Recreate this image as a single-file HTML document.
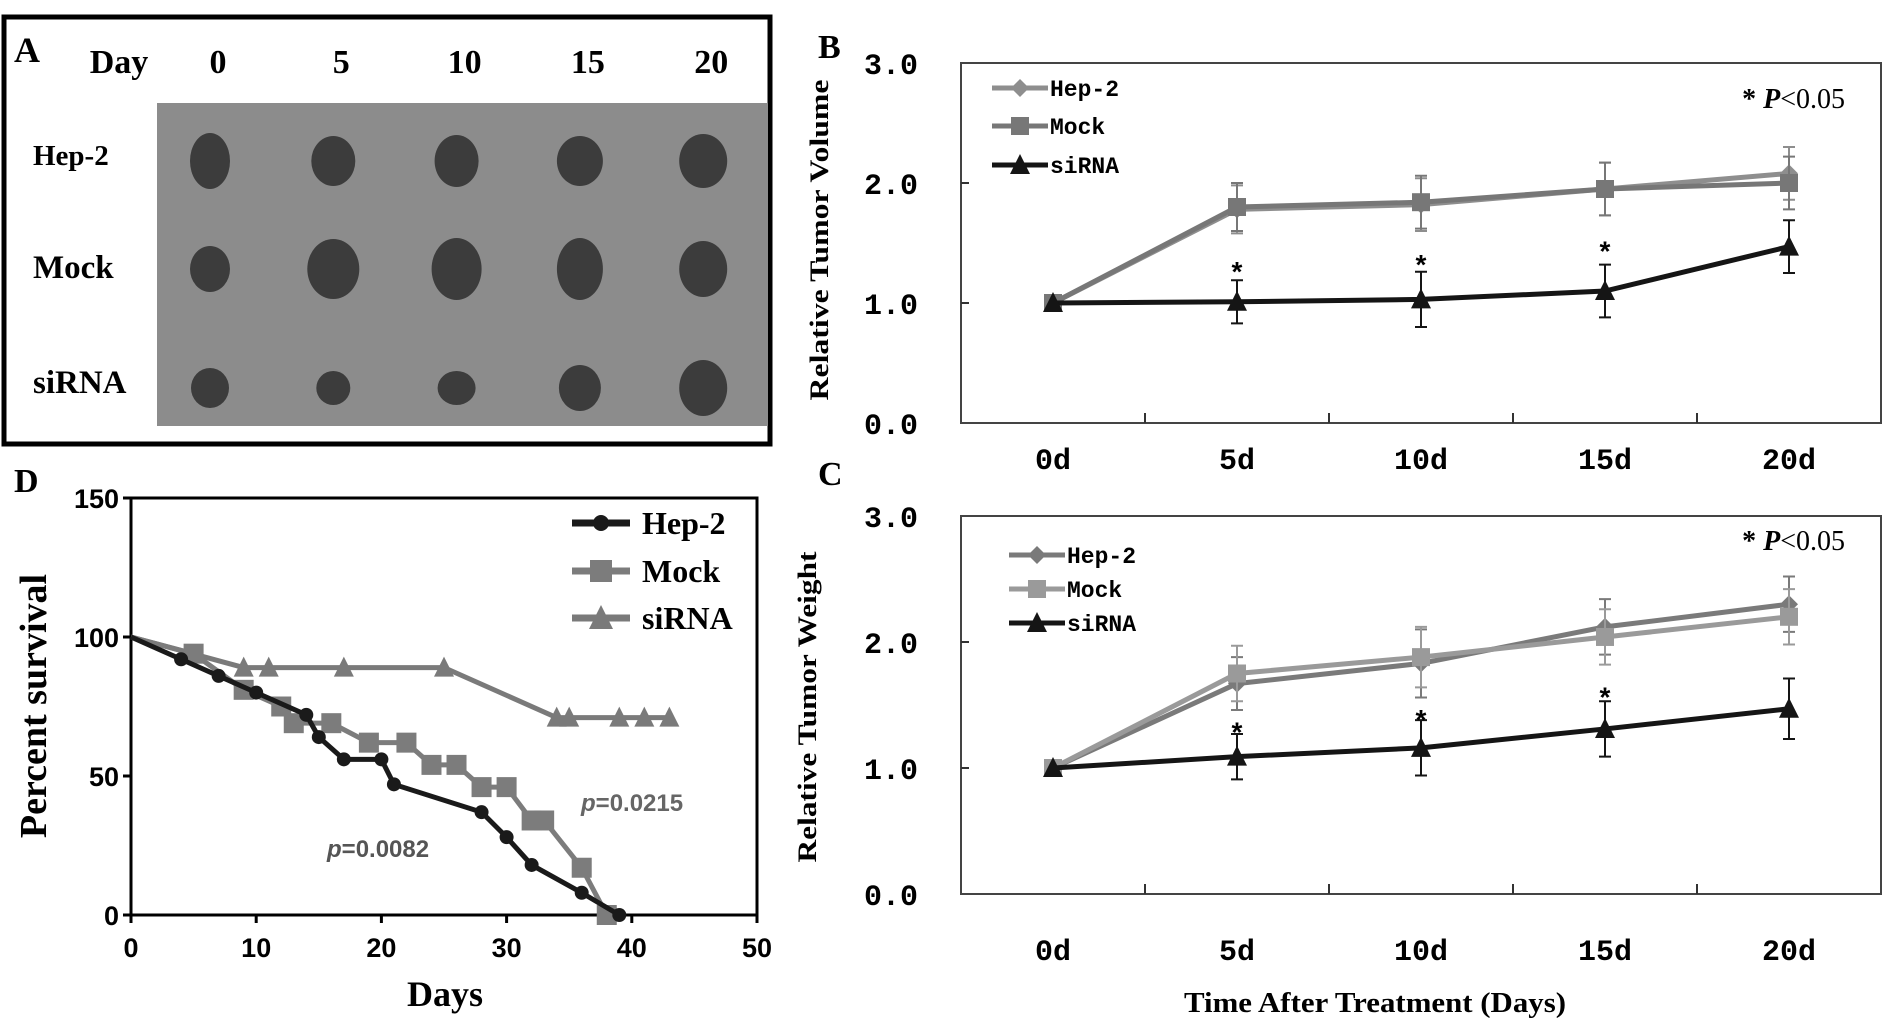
<!DOCTYPE html>
<html><head><meta charset="utf-8">
<style>
html,body{margin:0;padding:0;background:#fff;}
svg{display:block;}
.pl{font-family:"Liberation Serif",serif;font-weight:bold;}
.tk{font-family:"Liberation Mono","Liberation Sans",monospace;font-weight:bold;}
.ar{font-family:"Liberation Sans",sans-serif;font-weight:bold;}
</style></head>
<body>
<svg id="fig" width="1890" height="1018" viewBox="0 0 1890 1018" xmlns="http://www.w3.org/2000/svg">
  <g>
    <rect x="4" y="17" width="766" height="427" fill="#fff" stroke="#000" stroke-width="5"/>
    <rect x="157" y="103" width="611" height="323" fill="#8c8c8c"/>
    <text class="pl" x="14" y="62" font-size="36">A</text>
    <text class="pl" x="119" y="73" font-size="34" text-anchor="middle">Day</text>
    <g id="dayLabels"></g>
    <text class="pl" x="33" y="165" font-size="29">Hep-2</text>
    <text class="pl" x="33" y="278" font-size="33">Mock</text>
    <text class="pl" x="33" y="393" font-size="33">siRNA</text>
    <g id="tumors"></g>
  </g>

  <g id="panelB">
    <text class="pl" x="818" y="58" font-size="34">B</text>
  </g>
  <g id="panelC">
    <text class="pl" x="818" y="485" font-size="34">C</text>
    <text class="pl" x="1375" y="1012" font-size="28" text-anchor="middle" textLength="382" lengthAdjust="spacingAndGlyphs">Time After Treatment (Days)</text>
  </g>
  <g id="panelD">
    <text class="pl" x="14" y="492" font-size="34">D</text>
  </g>
</svg>
<script>
// ---------- Panel A data ----------
const dayLabelsA = ["0","5","10","15","20"];
const tumorRows = ["Hep-2","Mock","siRNA"];
const tumorW = [[40,44,44,46,48],[40,52,50,46,48],[38,34,38,42,48]];
const tumorH = [[56,50,52,50,54],[46,60,62,62,56],[40,34,34,46,56]];

// ---------- Panel B/C data ----------
const catsBC = ["0d","5d","10d","15d","20d"];
const yTicksBC = [0,1,2,3];
const yTickLabelsBC = ["0.0","1.0","2.0","3.0"];
const volHep2 = [1,1.78,1.82,1.95,2.08];
const volMock = [1,1.80,1.84,1.95,2.00];
const volSi = [1,1.01,1.03,1.10,1.47];
const volHep2Err = [0,0.20,0.22,0.22,0.22];
const volMockErr = [0,0.20,0.22,0.22,0.22];
const volSiErr = [0,0.18,0.23,0.22,0.22];
const volStars = [null,1.3,1.36,1.47,null];
const wtHep2 = [1,1.67,1.83,2.12,2.30];
const wtMock = [1,1.75,1.88,2.04,2.20];
const wtSi = [1,1.09,1.16,1.31,1.47];
const wtHep2Err = [0,0.21,0.27,0.22,0.22];
const wtMockErr = [0,0.22,0.24,0.22,0.22];
const wtSiErr = [0,0.18,0.22,0.22,0.24];
const wtStars = [null,1.32,1.42,1.6,null];

// ---------- Panel D data ----------
const dXTicks = [0,10,20,30,40,50];
const dYTicks = [0,50,100,150];
const hepDays = [0,4,7,10,14,15,17,20,21,28,30,32,36,39];
const hepSurv = [100,92,86,80,72,64,56,56,47,37,28,18,8,0];
const mockDays = [0,5,9,12,13,16,19,22,24,26,28,30,32,33,36,38];
const mockSurv = [100,94,81,75,69,69,62,62,54,54,46,46,34,34,17,0];
const siDays = [0,9,11,17,25,34,35,39,41,43];
const siSurv = [100,89,89,89,89,71,71,71,71,71];

const NS = "http://www.w3.org/2000/svg";
function mk(tag, attrs, parent){ const e=document.createElementNS(NS,tag); for(const k in attrs) e.setAttribute(k,attrs[k]); parent.appendChild(e); return e; }

// ---------- Panel A ----------
const dayG = document.getElementById('dayLabels');
const colX = i => 218 + i*123.3;
const rowY = r => [161,269,388][r];
dayLabelsA.forEach((d,i)=>{
  const t = mk('text',{x:colX(i),y:73,'font-size':34,'text-anchor':'middle',class:'pl'},dayG);
  t.textContent = d;
  
  
});
const tg = document.getElementById('tumors');
tumorRows.forEach((r,ri)=>{
  dayLabelsA.forEach((d,ci)=>{
    const e = mk('ellipse',{cx:colX(ci)-8,cy:rowY(ri),rx:tumorW[ri][ci]/2,ry:tumorH[ri][ci]/2,fill:'#3c3c3c'},tg);
    
    
  });
});

// ---------- Panels B & C ----------
function linePanel(gid, box, series, stars, yTitle, legendY, pText){
  const g = document.getElementById(gid);
  const x = i => box.x0 + (i+0.5)*(box.x1-box.x0)/catsBC.length;
  const y = v => box.yb - v*(box.yb-box.yt)/3;
  const fr = mk('path',{d:`M${box.x0},${box.yb} V${box.yt} H${box.x1} V${box.yb} Z`,fill:'none',stroke:'#444','stroke-width':2},g);
  
  
  for(let i=1;i<catsBC.length;i++){
    const tx = box.x0 + i*(box.x1-box.x0)/catsBC.length;
    const t = mk('line',{x1:tx,x2:tx,y1:box.yb,y2:box.yb-10,stroke:'#333','stroke-width':2},g);
    
    
  }
  yTicksBC.forEach((v,i)=>{
    const t = mk('text',{x:box.x0-70,y:y(v)+11,'font-size':30,'text-anchor':'middle',class:'tk'},g);
    t.textContent = yTickLabelsBC[i];
    
    
    if(v>0 && v<3){
      const tl = mk('line',{x1:box.x0,x2:box.x0+8,y1:y(v),y2:y(v),stroke:'#333','stroke-width':2},g);
      
      
    }
  });
  catsBC.forEach((c,i)=>{
    const t = mk('text',{x:x(i),y:box.xlY,'font-size':30,'text-anchor':'middle',class:'tk'},g);
    t.textContent = c;
    
    
  });
  const yt = mk('text',{transform:`translate(${box.ytX},${box.ytC}) rotate(-90)`,'font-size':26,'text-anchor':'middle',textLength:box.ytLen,lengthAdjust:'spacingAndGlyphs',class:'pl'},g);
  yt.textContent = yTitle;
  
  
  series.forEach(s=>{
    s.vals.forEach((v,i)=>{
      if(!s.err[i]) return;
      const eb = mk('path',{d:`M${x(i)},${y(v+s.err[i])} V${y(v-s.err[i])} M${x(i)-6},${y(v+s.err[i])} h12 M${x(i)-6},${y(v-s.err[i])} h12`,stroke:s.col,'stroke-width':2,fill:'none'},g);
      
      
    });
    const pl = mk('polyline',{points:s.vals.map((v,i)=>`${x(i)},${y(v)}`).join(' '),fill:'none',stroke:s.col,'stroke-width':5},g);
    
    
    s.vals.forEach((v,i)=>{
      const m = marker(g,s.mk,x(i),y(v),s.col,9);
      
      
    });
  });
  stars.forEach((v,i)=>{
    if(v===null) return;
    const t = mk('text',{x:x(i),y:y(v)+14,'font-size':28,'text-anchor':'middle',class:'ar'},g);
    t.textContent = '*';
    
    
  });
  series.forEach((s,k)=>{
    const ly = legendY[k];
    const ll = mk('line',{x1:box.lx,x2:box.lx+56,y1:ly,y2:ly,stroke:s.col,'stroke-width':5},g);
    
    
    const m = marker(g,s.mk,box.lx+28,ly,s.col,9);
    
    
    const t = mk('text',{x:box.lx+58,y:ly+8,'font-size':23,class:'tk'},g);
    t.textContent = s.name;
    
    
  });
  const p = mk('text',{x:box.x1-36,y:pText,'font-size':28,'text-anchor':'end',class:'pl'},g);
  p.innerHTML = '* <tspan font-style="italic">P</tspan><tspan font-weight="normal">&lt;0.05</tspan>';
  
  
}
function marker(g,type,cx,cy,col,r){
  if(type==='diamond') return mk('polygon',{points:`${cx},${cy-r} ${cx+r},${cy} ${cx},${cy+r} ${cx-r},${cy}`,fill:col},g);
  if(type==='square') return mk('rect',{x:cx-r,y:cy-r,width:2*r,height:2*r,fill:col},g);
  if(type==='circle') return mk('circle',{cx:cx,cy:cy,r:r,fill:col},g);
  return mk('polygon',{points:`${cx},${cy-r-2} ${cx+r+1},${cy+r} ${cx-r-1},${cy+r}`,fill:col},g);
}
linePanel('panelB',{x0:961,x1:1881,yt:63,yb:423,xlY:469,ytX:828,ytC:240,ytLen:321,lx:992},
  [{name:'Hep-2',vals:volHep2,err:volHep2Err,col:'#8e8e8e',mk:'diamond'},
   {name:'Mock',vals:volMock,err:volMockErr,col:'#777',mk:'square'},
   {name:'siRNA',vals:volSi,err:volSiErr,col:'#151515',mk:'tri'}],
  volStars,'Relative Tumor Volume',[88,126,165],108);
linePanel('panelC',{x0:961,x1:1881,yt:516,yb:894,xlY:960,ytX:816,ytC:707,ytLen:311,lx:1009},
  [{name:'Hep-2',vals:wtHep2,err:wtHep2Err,col:'#7a7a7a',mk:'diamond'},
   {name:'Mock',vals:wtMock,err:wtMockErr,col:'#9a9a9a',mk:'square'},
   {name:'siRNA',vals:wtSi,err:wtSiErr,col:'#151515',mk:'tri'}],
  wtStars,'Relative Tumor Weight',[555,589,623],550);

// ---------- Panel D ----------
(function(){
  const g = document.getElementById('panelD');
  const x0=131,x1=757,yb=915,yt=498;
  const x = d => x0 + d*(x1-x0)/50;
  const y = v => yb - v*(yb-yt)/150;
  const fr = mk('rect',{x:x0,y:yt,width:x1-x0,height:yb-yt,fill:'none',stroke:'#000','stroke-width':3},g);
  
  
  dXTicks.forEach(d=>{
    const t = mk('line',{x1:x(d),x2:x(d),y1:yb,y2:yb+8,stroke:'#000','stroke-width':3},g);
    
    
    const l = mk('text',{x:x(d),y:yb+42,'font-size':27,'text-anchor':'middle',class:'ar'},g);
    l.textContent = d;
    
    
  });
  dYTicks.forEach(v=>{
    const t = mk('line',{x1:x0-8,x2:x0,y1:y(v),y2:y(v),stroke:'#000','stroke-width':3},g);
    
    
    const l = mk('text',{x:x0-12,y:y(v)+10,'font-size':27,'text-anchor':'end',class:'ar'},g);
    l.textContent = v;
    
    
  });
  const xt = mk('text',{x:445,y:1006,'font-size':36,'text-anchor':'middle',class:'pl'},g);
  xt.textContent='Days';
  
  
  const ytl = mk('text',{transform:`translate(46,706) rotate(-90)`,'font-size':38,'text-anchor':'middle',class:'pl'},g);
  ytl.textContent='Percent survival';
  
  
  const ser = [
    {name:'siRNA',d:siDays,s:siSurv,col:'#7a7a7a',mk:'tri',r:9},
    {name:'Mock',d:mockDays,s:mockSurv,col:'#7c7c7c',mk:'square',r:10},
    {name:'Hep-2',d:hepDays,s:hepSurv,col:'#1a1a1a',mk:'circle',r:7}
  ];
  ser.forEach(s=>{
    const pl = mk('polyline',{points:s.d.map((d,i)=>`${x(d)},${y(s.s[i])}`).join(' '),fill:'none',stroke:s.col,'stroke-width':5},g);
    
    
    s.d.forEach((d,i)=>{
      if(i===0) return;
      const m = marker(g,s.mk,x(d),y(s.s[i]),s.col,s.r);
      
      
    });
  });
  const leg = [['Hep-2','#1a1a1a','circle',523],['Mock','#7c7c7c','square',571],['siRNA','#7a7a7a','tri',618]];
  leg.forEach(L=>{
    const ll = mk('line',{x1:572,x2:630,y1:L[3],y2:L[3],stroke:L[1],'stroke-width':7},g);
    
    
    const m = marker(g,L[2],601,L[3],L[1],L[2]==='circle'?8:11);
    
    
    const t = mk('text',{x:642,y:L[3]+11,'font-size':32,class:'pl'},g);
    t.textContent = L[0];
    
    
  });
  const p1 = mk('text',{x:327,y:857,'font-size':24,fill:'#555',class:'ar'},g);
  p1.innerHTML = '<tspan font-style="italic">p</tspan>=0.0082';
  
  
  const p2 = mk('text',{x:581,y:811,'font-size':24,fill:'#666',class:'ar'},g);
  p2.innerHTML = '<tspan font-style="italic">p</tspan>=0.0215';
  
  
})();
</script>
</body></html>
